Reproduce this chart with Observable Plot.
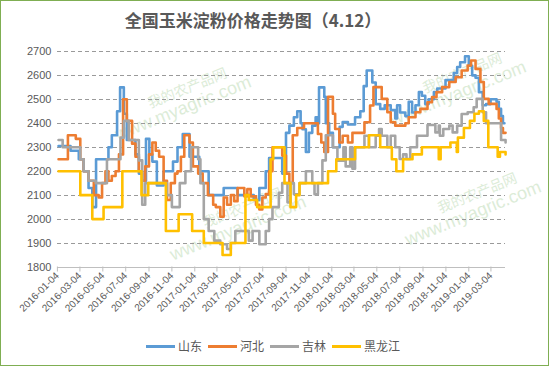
<!DOCTYPE html>
<html><head><meta charset="utf-8">
<script src="https://cdn.jsdelivr.net/npm/d3@7"></script>
<script src="https://cdn.jsdelivr.net/npm/@observablehq/plot@0.6"></script>
<style>
html,body{margin:0;padding:0;background:#fff;}
#wrap{position:relative;width:549px;height:366px;box-sizing:border-box;border:1px solid #7fae52;overflow:hidden;font-family:"Noto Sans CJK SC",sans-serif;}
#title{position:absolute;left:0;top:7px;width:504px;text-align:center;font-size:17px;font-weight:bold;color:#595959;line-height:24px;}
#chart{position:absolute;left:-1px;top:-1px;}
#legend{position:absolute;left:0;top:336px;width:544px;display:flex;justify-content:center;align-items:center;font-size:12px;color:#595959;line-height:18px;}
.item{display:flex;align-items:center;margin:0 3px;}
.sw{width:29px;height:3px;margin-right:3px;}
.wm{position:absolute;color:#9cc98f;opacity:0.35;transform:rotate(-22deg);transform-origin:left top;white-space:nowrap;font-family:"Liberation Sans",sans-serif;}
.wm .cn{font-family:"Noto Sans CJK SC",sans-serif;font-size:14px;margin-left:42px;display:block;line-height:16px;}
.wm .en{font-size:18px;display:block;line-height:20px;}
#chart svg .grid line, #chart svg .grid path{shape-rendering:crispEdges;}
</style>
</head><body>
<div id="wrap">
<div class="wm" style="left:105px;top:110px;"><span class="cn">我的农产品网</span><span class="en">www.myagric.com</span></div>
<div class="wm" style="left:160px;top:230px;"><span class="cn">我的农产品网</span><span class="en">www.myagric.com</span></div>
<div class="wm" style="left:380px;top:95px;"><span class="cn">我的农产品网</span><span class="en">www.myagric.com</span></div>
<div class="wm" style="left:395px;top:215px;"><span class="cn">我的农产品网</span><span class="en">www.myagric.com</span></div>
<div id="chart"></div>
<div id="title">全国玉米淀粉价格走势图（4.12）</div>
<div id="legend"></div>
</div>
<script>
const seriesNames = ["山东", "河北", "吉林", "黑龙江"];
const seriesColors = ["#5b9bd5", "#ed7d31", "#a5a5a5", "#ffc000"];
const yTicks = [1800,1900,2000,2100,2200,2300,2400,2500,2600,2700];
const xTickLabels = ["2016-01-04","2016-03-04","2016-05-04","2016-07-04","2016-09-04","2016-11-04","2017-01-04","2017-03-04","2017-05-04","2017-07-04","2017-09-04","2017-11-04","2018-01-04","2018-03-04","2018-05-04","2018-07-04","2018-09-04","2018-11-04","2019-01-04","2019-03-04"];
const xDomain = ["2016-01-04", "2019-04-12"];

// 山东
const shandongDates = ["2016-01-07","2016-02-08","2016-03-01","2016-03-14","2016-03-27","2016-04-06","2016-04-16","2016-05-19","2016-05-28","2016-06-11","2016-06-19","2016-06-29","2016-07-07","2016-07-30","2016-08-08","2016-08-17","2016-08-27","2016-09-05","2016-09-13","2016-09-25","2016-10-13","2016-11-07","2016-11-19","2016-12-03","2016-12-21","2017-01-16","2017-02-10","2017-03-22","2017-04-28","2017-06-10","2017-06-25","2017-07-12","2017-07-21","2017-08-25","2017-09-04","2017-09-13","2017-09-25","2017-10-04","2017-10-13","2017-10-18","2017-10-27","2017-11-04","2017-11-13","2017-11-22","2017-11-28","2017-12-01","2017-12-15","2017-12-19","2017-12-28","2018-01-07","2018-01-25","2018-02-02","2018-02-16","2018-03-07","2018-03-21","2018-03-30","2018-04-07","2018-04-22","2018-05-01","2018-05-13","2018-05-25","2018-06-10","2018-06-22","2018-06-27","2018-07-05","2018-07-19","2018-07-28","2018-08-06","2018-08-15","2018-08-24","2018-09-01","2018-09-10","2018-09-19","2018-10-03","2018-10-12","2018-11-03","2018-11-25","2018-12-04","2018-12-12","2018-12-25","2019-01-04","2019-01-13","2019-01-22","2019-01-31","2019-02-10","2019-02-19","2019-03-03","2019-03-19","2019-03-25","2019-03-31","2019-04-05","2019-04-09"];
const shandongValues = [2305,2285,2250,2200,2130,2050,2250,2300,2350,2450,2550,2440,2330,2270,2190,2160,2335,2270,2240,2140,2200,2240,2300,2355,2260,2200,2100,2130,2100,2080,2130,2200,2255,2190,2360,2390,2425,2450,2400,2375,2280,2360,2390,2425,2400,2550,2510,2400,2360,2300,2385,2405,2395,2425,2450,2555,2620,2570,2480,2460,2475,2455,2420,2475,2445,2430,2490,2445,2475,2530,2515,2480,2500,2530,2545,2580,2610,2635,2655,2680,2640,2600,2590,2530,2475,2480,2500,2490,2460,2430,2400,2400];

// 河北
const hebeiDates = ["2016-01-07","2016-02-01","2016-02-22","2016-03-05","2016-03-14","2016-03-27","2016-04-10","2016-04-23","2016-05-02","2016-05-11","2016-05-19","2016-05-28","2016-06-07","2016-06-16","2016-06-27","2016-07-07","2016-07-21","2016-07-30","2016-08-08","2016-08-17","2016-08-25","2016-09-04","2016-09-13","2016-09-22","2016-10-01","2016-10-13","2016-10-22","2016-11-01","2016-11-12","2016-11-19","2016-11-28","2016-12-07","2016-12-21","2016-12-30","2017-01-13","2017-01-25","2017-02-08","2017-02-22","2017-03-01","2017-03-13","2017-03-22","2017-03-31","2017-04-10","2017-04-19","2017-04-28","2017-05-16","2017-05-24","2017-06-02","2017-06-16","2017-06-25","2017-07-03","2017-07-12","2017-07-21","2017-07-30","2017-08-25","2017-09-04","2017-09-13","2017-09-22","2017-10-04","2017-10-22","2017-11-28","2017-12-07","2017-12-15","2017-12-25","2018-01-07","2018-01-13","2018-01-24","2018-02-02","2018-02-16","2018-02-28","2018-04-01","2018-04-16","2018-04-25","2018-05-17","2018-06-01","2018-06-10","2018-06-22","2018-07-19","2018-07-28","2018-08-15","2018-08-28","2018-09-16","2018-09-28","2018-10-10","2018-10-25","2018-11-13","2018-11-30","2018-12-16","2019-01-01","2019-01-10","2019-01-22","2019-02-04","2019-02-13","2019-02-26","2019-03-19","2019-03-25","2019-03-31","2019-04-05","2019-04-12"];
const hebeiValues = [2250,2350,2335,2250,2200,2160,2100,2090,2150,2200,2160,2180,2200,2270,2500,2410,2315,2260,2200,2160,2220,2270,2320,2285,2260,2160,2080,2150,2190,2200,2260,2350,2320,2220,2190,2150,2100,2060,2050,2010,2090,2060,2100,2075,2130,2095,2125,2095,2060,2040,2090,2105,2200,2300,2265,2190,2150,2350,2380,2400,2355,2320,2280,2510,2440,2376,2320,2348,2320,2360,2404,2474,2551,2502,2446,2404,2390,2400,2425,2446,2460,2488,2509,2530,2551,2572,2592,2620,2641,2662,2627,2572,2502,2481,2460,2420,2380,2360,2360];

// 吉林
const jilinDates = ["2016-01-07","2016-01-18","2016-03-05","2016-03-14","2016-03-27","2016-04-15","2016-05-15","2016-06-20","2016-06-29","2016-07-12","2016-08-08","2016-08-17","2016-08-25","2016-10-22","2016-11-04","2016-11-25","2016-12-10","2016-12-25","2017-01-13","2017-01-19","2017-01-28","2017-02-10","2017-02-25","2017-03-13","2017-03-31","2017-04-10","2017-04-22","2017-05-28","2017-06-07","2017-06-25","2017-07-12","2017-07-21","2017-07-30","2017-08-16","2017-08-25","2017-09-08","2017-09-16","2017-09-25","2017-10-10","2017-10-27","2017-11-13","2017-11-19","2017-11-28","2017-12-10","2017-12-19","2018-01-07","2018-01-19","2018-02-04","2018-02-10","2018-02-22","2018-02-28","2018-03-07","2018-04-01","2018-04-13","2018-05-01","2018-05-10","2018-05-17","2018-06-01","2018-06-10","2018-06-22","2018-07-04","2018-07-13","2018-07-22","2018-08-01","2018-08-19","2018-09-16","2018-10-07","2018-10-16","2018-10-19","2018-10-28","2018-11-13","2018-11-22","2018-12-04","2018-12-16","2019-01-01","2019-01-17","2019-01-25","2019-02-10","2019-02-19","2019-03-31","2019-04-12"];
const jilinValues = [2330,2300,2250,2200,2160,2150,2250,2340,2410,2330,2245,2060,2150,2100,2050,2150,2200,2300,2250,2150,2000,1950,1910,1895,1875,1900,1950,1910,1950,1895,1950,2000,2050,2110,2150,2070,2150,2104,2150,2200,2150,2104,2150,2245,2350,2300,2244,2300,2220,2300,2210,2300,2348,2300,2348,2376,2348,2300,2348,2300,2251,2270,2251,2300,2348,2393,2362,2390,2348,2376,2390,2362,2390,2439,2446,2467,2502,2446,2400,2330,2320];

// 黑龙江
const heilongjiangDates = ["2016-01-07","2016-03-05","2016-04-06","2016-05-06","2016-06-25","2016-08-15","2016-09-02","2016-10-19","2016-11-22","2016-12-28","2017-01-28","2017-03-19","2017-04-10","2017-05-19","2017-05-28","2017-06-19","2017-07-25","2017-08-01","2017-08-31","2017-09-16","2017-10-01","2017-10-10","2017-12-25","2018-01-16","2018-03-07","2018-04-13","2018-05-13","2018-06-13","2018-06-25","2018-07-13","2018-08-07","2018-09-01","2018-10-16","2018-10-21","2018-11-16","2018-12-03","2018-12-06","2018-12-22","2019-01-07","2019-01-19","2019-01-31","2019-02-13","2019-02-25","2019-03-22","2019-03-28","2019-04-12"];
const heilongjiangValues = [2200,2100,2000,2050,2200,2100,2150,1950,2020,1950,1900,1850,1900,2100,2080,2050,2250,2300,2150,2050,2100,2150,2200,2250,2300,2350,2300,2250,2200,2250,2270,2300,2250,2300,2320,2280,2340,2380,2410,2440,2450,2410,2300,2260,2280,2270];

const allDates = [shandongDates, hebeiDates, jilinDates, heilongjiangDates];
const allValues = [shandongValues, hebeiValues, jilinValues, heilongjiangValues];

const data = [];
seriesNames.forEach((name, i) => {
  allDates[i].forEach((d, j) => data.push({series: name, date: new Date(d), value: allValues[i][j]}));
});

const chart = Plot.plot({
  width: 549,
  height: 366,
  marginLeft: 57,
  marginRight: 43,
  marginTop: 51,
  marginBottom: 99,
  style: {fontFamily: "'Liberation Sans', sans-serif", fontSize: "10px", color: "#595959", background: "transparent"},
  x: {type: "utc", domain: xDomain.map(d => new Date(d))},
  y: {domain: [1800, 2700]},
  color: {domain: seriesNames, range: seriesColors},
  marks: [
    Plot.ruleY(yTicks.slice(1), {y: d => d, stroke: "#9a9a9a", strokeOpacity: 1, strokeWidth: 1, strokeDasharray: "4,3", className: "grid"}),
    Plot.ruleY([yTicks[0]], {y: d => d, stroke: "#bfbfbf", strokeWidth: 1, className: "grid"}),
    Plot.axisY({ticks: yTicks, tickFormat: d => String(d), tickSize: 0, tickPadding: 6, fontSize: 11, label: null}),
    Plot.axisX({ticks: xTickLabels.map(d => new Date(d)), tickFormat: d3.utcFormat("%Y-%m-%d"), tickRotate: -45, tickSize: 5, stroke: "#bfbfbf", fontSize: 10, label: null, tickPadding: 2}),
    ...seriesNames.map(name => Plot.line(data.filter(d => d.series === name), {x: "date", y: "value", stroke: "series", curve: "step-after", strokeWidth: 2.6, strokeLinejoin: "round"}))
  ]
});
document.getElementById("chart").appendChild(chart);

const legend = document.getElementById("legend");
seriesNames.forEach((name, i) => {
  const item = document.createElement("div");
  item.className = "item";
  item.innerHTML = `<div class="sw" style="background:${seriesColors[i]}"></div><span>${name}</span>`;
  legend.appendChild(item);
});
</script>
</body></html>
